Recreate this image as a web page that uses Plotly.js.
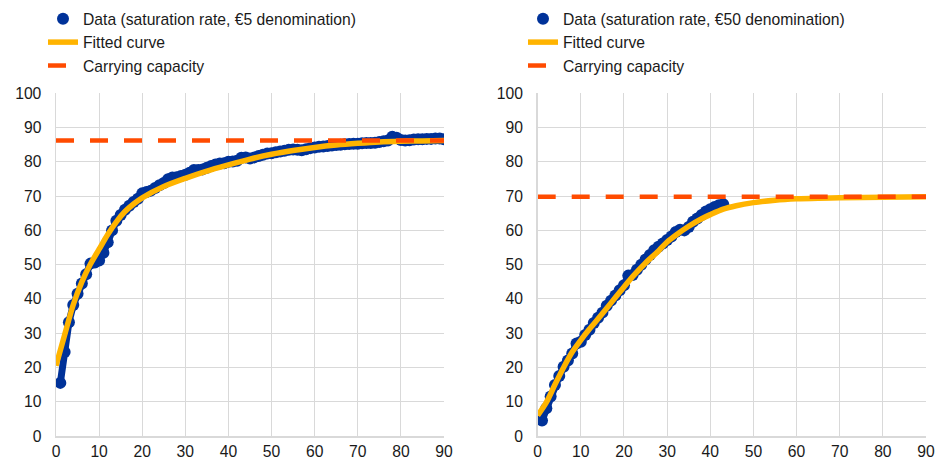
<!DOCTYPE html>
<html>
<head>
<meta charset="utf-8">
<script src="https://cdn.plot.ly/plotly-3.0.1.min.js"></script>
<style>html,body{margin:0;padding:0;background:#fff}#chart{width:936px;height:461px}</style>
</head>
<body>
<div id="chart"></div>
<script>
// ---- Left panel: €5 denomination ----
const leftX = [];
for (let i = 1; i <= 90; i++) leftX.push(i);
const leftData = [15.5, 24.5, 33.2, 38.2, 41.5, 44.5, 47.2, 50.3, 50.6, 51.2,
  53.5, 56.5, 60.0, 62.8, 64.5, 66.0, 67.2, 68.3, 69.2, 70.8,
  71.2, 71.6, 72.4, 73.2, 73.8, 74.9, 75.4, 75.5, 75.9, 76.2,
  76.8, 77.6, 77.6, 77.8, 78.3, 78.8, 79.2, 79.5, 79.6, 80.0,
  80.1, 80.3, 81.2, 81.3, 81.0, 81.3, 81.7, 82.1, 82.4, 82.5,
  82.8, 83.0, 83.2, 83.5, 83.6, 83.5, 83.4, 83.7, 84.0, 84.2,
  84.4, 84.5, 84.6, 84.8, 84.9, 85.0, 85.1, 85.2, 85.3, 85.3,
  85.4, 85.5, 85.5, 85.6, 85.8, 86.0, 86.2, 87.3, 87.0, 86.4,
  86.2, 86.3, 86.5, 86.6, 86.6, 86.7, 86.7, 86.8, 86.8, 86.6];
const leftFitX = [0, 2, 4, 6, 8, 10, 12, 14, 16, 18, 20, 25, 30, 35, 40, 45, 50, 55, 60, 65, 70, 75, 80, 85, 90];
const leftFitY = [20.5, 29.5, 38.3, 45.0, 50.2, 54.5, 58.8, 62.5, 65.5, 67.7, 69.5, 72.8, 75.2, 77.3, 79.1, 80.8, 82.2, 83.3, 84.2, 84.9, 85.4, 85.8, 86.0, 86.1, 86.2];
const leftCapX = [0, 90];
const leftCapY = [86.2, 86.2];

// ---- Right panel: €50 denomination ----
const rightX = [];
for (let i = 1; i <= 43; i++) rightX.push(i);
const rightData = [4.5, 8.1, 11.5, 14.9, 17.5, 20.2, 22.0, 24.1, 27.0, 27.5,
  29.5, 31.0, 33.0, 34.5, 36.0, 38.0, 39.5, 41.0, 42.5, 44.0,
  46.8, 47.0, 48.5, 50.0, 51.5, 52.8, 54.2, 55.2, 56.2, 57.2,
  58.2, 59.5, 60.2, 60.0, 61.0, 62.5, 63.5, 64.5, 65.5, 66.2,
  66.8, 67.3, 67.6];
const rightFitX = [0, 2, 4, 6, 8, 10, 12, 14, 16, 18, 20, 22, 25, 28, 30, 32, 35, 38, 40, 43, 46, 50, 55, 60, 65, 70, 80, 90];
const rightFitY = [6.0, 9.8, 15.0, 20.0, 24.5, 28.0, 31.2, 34.2, 37.3, 40.4, 43.5, 46.5, 50.5, 54.0, 56.6, 58.6, 61.2, 63.4, 64.6, 66.2, 67.2, 68.1, 68.8, 69.2, 69.4, 69.5, 69.7, 69.8];
const rightCapX = [0, 90];
const rightCapY = [69.8, 69.8];

const leftNames = ['Data (saturation rate, €5 denomination)', 'Fitted curve', 'Carrying capacity'];
const rightNames = ['Data (saturation rate, €50 denomination)', 'Fitted curve', 'Carrying capacity'];

const BLUE = '#003299', ORANGE = '#FFB400', RED = '#FF4B00';
const DASH = '18px,16px';

function panel(xs, ys, fx, fy, cx, cy, names, xa, ya, leg) {
  return [
    {x: xs, y: ys, xaxis: xa, yaxis: ya, type: 'scatter', mode: 'lines',
     line: {color: BLUE, width: 7}, showlegend: false, hoverinfo: 'skip'},
    {x: xs, y: ys, xaxis: xa, yaxis: ya, type: 'scatter', mode: 'markers',
     marker: {color: BLUE, size: 12}, name: names[0], legend: leg},
    {x: fx, y: fy, xaxis: xa, yaxis: ya, type: 'scatter', mode: 'lines',
     line: {color: ORANGE, width: 5.5, shape: 'spline', smoothing: 0.8}, name: names[1], legend: leg},
    {x: cx, y: cy, xaxis: xa, yaxis: ya, type: 'scatter', mode: 'lines',
     line: {color: RED, width: 4.5, dash: DASH}, name: names[2], legend: leg}
  ];
}

const data = [].concat(
  panel(leftX, leftData, leftFitX, leftFitY, leftCapX, leftCapY, leftNames, 'x', 'y', 'legend'),
  panel(rightX, rightData, rightFitX, rightFitY, rightCapX, rightCapY, rightNames, 'x2', 'y2', 'legend2')
);

const FONT = {family: 'Liberation Sans, Arial, sans-serif', size: 15.7, color: '#1a1a1a'};
const W = 936, H = 461;
function xax(l, r) {
  return {domain: [l / W, r / W], range: [0, 90], dtick: 10, tick0: 0,
    showgrid: true, gridcolor: '#d9d9d9', gridwidth: 1, zeroline: false,
    showline: true, linecolor: '#d9d9d9', linewidth: 1.5, ticks: '',
    ticklabelstandoff: 1, tickfont: FONT, fixedrange: true, automargin: false};
}
function yax(anchor) {
  return {domain: [(H - 436) / H, (H - 93.3) / H], range: [0, 100], dtick: 10, tick0: 0,
    showgrid: true, gridcolor: '#d9d9d9', gridwidth: 1, zeroline: false,
    showline: true, linecolor: '#d9d9d9', linewidth: 1.5, ticks: '',
    ticklabelstandoff: 10, tickfont: FONT, fixedrange: true, automargin: false, anchor: anchor};
}
const legendBase = {font: FONT, bgcolor: 'rgba(0,0,0,0)', borderwidth: 0,
  xanchor: 'left', yanchor: 'top', y: 1 - 2 / H, tracegroupgap: 0, itemwidth: 30};

const layout = {
  width: W, height: H,
  margin: {l: 0, r: 0, t: 0, b: 0},
  paper_bgcolor: '#fff', plot_bgcolor: '#fff',
  font: FONT,
  xaxis: Object.assign(xax(56, 444), {anchor: 'y'}),
  yaxis: yax('x'),
  xaxis2: Object.assign(xax(537.7, 926), {anchor: 'y2'}),
  yaxis2: yax('x2'),
  legend: Object.assign({}, legendBase, {x: 43 / W}),
  legend2: Object.assign({}, legendBase, {x: 523 / W}),
  showlegend: true
};

Plotly.newPlot('chart', data, layout, {displayModeBar: false, staticPlot: true});
</script>
</body>
</html>
